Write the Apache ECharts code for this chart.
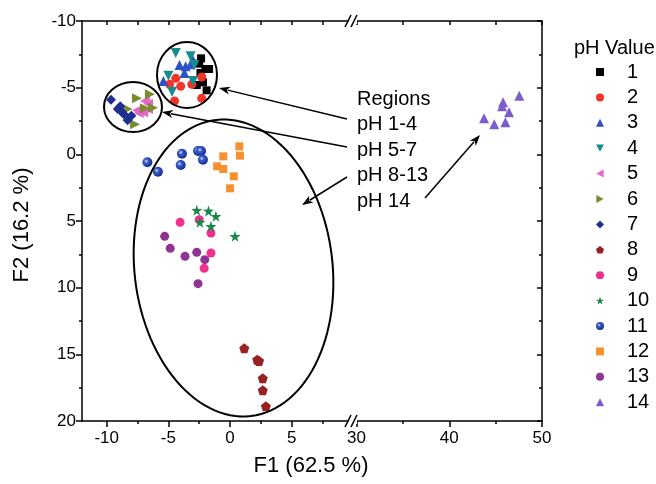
<!DOCTYPE html>
<html><head><meta charset="utf-8">
<script src="https://cdn.jsdelivr.net/npm/echarts@6/dist/echarts.min.js"></script>
<style>html,body{margin:0;padding:0;background:#fff}#c{width:656px;height:484px}</style>
</head><body><div id="c"></div>
<script>
const phNames = ['1','2','3','4','5','6','7','8','9','10','11','12','13','14'];
const ph1 = [[-2.35,-7.2],[-2.5,-6.8],[-2.0,-6.4],[-1.7,-6.4],[-2.4,-6.1],[-2.2,-5.4],[-2.7,-5.2],[-1.9,-4.8]];
const ph2 = [[-4.4,-5.7],[-4.9,-5.25],[-4.0,-5.1],[-3.1,-5.25],[-2.3,-5.8],[-4.5,-4.0],[-2.3,-4.2]];
const ph3 = [[-4.1,-6.7],[-3.2,-6.75],[-3.0,-7.05],[-3.7,-6.1],[-5.4,-5.5],[-3.6,-6.6]];
const ph4 = [[-4.4,-7.6],[-3.2,-7.35],[-5.0,-5.9],[-3.0,-5.5],[-4.7,-4.7],[-2.9,-6.7]];
const ph5 = [[-6.9,-4.0],[-6.65,-3.8],[-7.55,-3.3],[-7.05,-3.15],[-6.65,-3.4],[-7.4,-3.1]];
const ph6 = [[-7.55,-4.2],[-8.3,-3.4],[-6.5,-4.5],[-6.25,-3.5],[-7.7,-2.25],[-6.9,-3.45]];
const ph7 = [[-9.65,-4.1],[-8.9,-3.6],[-9.1,-3.4],[-8.75,-3.15],[-8.6,-3.0],[-8.3,-2.55],[-8.0,-2.9]];
const ph8 = [[1.15,14.55],[2.2,15.4],[2.35,15.5],[2.65,16.8],[2.65,17.7],[2.9,18.9]];
const ph9 = [[-4.05,5.1],[-2.5,4.9],[-1.55,5.9],[-1.55,7.4],[-2.1,8.55]];
const ph10 = [[-2.7,4.2],[-1.75,4.25],[-1.15,4.65],[-2.45,5.1],[-1.55,5.4],[0.4,6.15]];
const ph11 = [[-6.7,0.6],[-5.85,1.3],[-3.9,-0.05],[-4.0,0.8],[-2.6,-0.25],[-2.35,-0.25],[-2.2,0.4]];
const ph12 = [[0.75,-0.6],[0.8,0.1],[-0.55,0.15],[-1.05,0.9],[-0.55,1.1],[0.3,1.65],[0.0,2.55]];
const ph13 = [[-5.3,6.15],[-4.85,7.05],[-3.65,7.65],[-2.7,7.35],[-2.05,7.9],[-2.6,9.7]];
const ph14 = [[47.55,-4.4],[45.8,-3.9],[45.7,-3.6],[46.45,-3.15],[43.75,-2.7],[44.85,-2.25],[46.05,-2.4]];

const xLeftMajor = [-10,-5,0,5];
const xLeftMinor = [-7.5,-2.5,2.5,7.5];
const xRightMajor = [30,40,50];
const xRightMinor = [35,45];
const regionLabels = ['Regions','pH 1-4','pH 5-7','pH 8-13','pH 14'];

const pentagon = 'path://M0,-10L9.51,-3.09L5.88,8.09L-5.88,8.09L-9.51,-3.09Z';
const star = 'path://M0,-10L2.35,-3.24L9.51,-3.09L3.8,1.24L5.88,8.09L0,4L-5.88,8.09L-3.8,1.24L-9.51,-3.09L-2.35,-3.24Z';
const triDown = 'path://M0,0L10,0L5,9Z';
const triLeft = 'path://M9,0L9,10L0,5Z';
const triRight = 'path://M0,0L0,10L9,5Z';
const sphere = {type:'radial',x:0.38,y:0.38,r:0.65,colorStops:[{offset:0,color:'#dfe8ff'},{offset:0.3,color:'#3d5fcc'},{offset:1,color:'#142a8a'}]};

const styles = [
  {data:ph1, symbol:'rect', size:8, color:'#000000'},
  {data:ph2, symbol:'circle', size:9, color:'#f2352a'},
  {data:ph3, symbol:'triangle', size:10, color:'#2f52c4'},
  {data:ph4, symbol:'triangle', size:10, color:'#178c8c', rot:180, icon:triDown},
  {data:ph5, symbol:'triangle', size:10, color:'#e466c8', rot:90, icon:triLeft},
  {data:ph6, symbol:'triangle', size:10, color:'#7b8c2e', rot:-90, icon:triRight},
  {data:ph7, symbol:'diamond', size:10, color:'#1f2f8f'},
  {data:ph8, symbol:pentagon, size:10, color:'#982222'},
  {data:ph9, symbol:'circle', size:9, color:'#f0308c'},
  {data:ph10, symbol:star, size:11, color:'#18884a'},
  {data:ph11, symbol:'circle', size:10, color:sphere},
  {data:ph12, symbol:'rect', size:8, color:'#f7902e'},
  {data:ph13, symbol:'circle', size:9, color:'#8e3294'},
  {data:ph14, symbol:'triangle', size:10, color:'#7b5ccc', right:true}
];

const series = styles.map((s,i)=>({
  name: phNames[i], type:'scatter', data:s.data, symbol:s.symbol, symbolSize:s.size,
  symbolRotate: s.rot||0, itemStyle:{color:s.color, opacity:1},
  xAxisIndex: s.right?3:0, yAxisIndex: s.right?1:0, z: 3
}));
const legendData = styles.map((s,i)=> s.icon ? {name:phNames[i], icon:s.icon} : {name:phNames[i]});

const FONT = 'Liberation Sans, Arial, sans-serif';
const lineStyle = {color:'#000', width:1.5};
function xAxes(grid, min, max, major, minor){
  return [
    {gridIndex:grid, type:'value', position:'bottom', min, max,
     axisLine:{show:true,onZero:false,lineStyle}, splitLine:{show:false},
     axisTick:{show:true, customValues:major, length:6, lineStyle},
     axisLabel:{customValues:major, fontSize:17, color:'#000', margin:9, fontFamily:FONT}},
    {gridIndex:grid, type:'value', position:'bottom', min, max,
     axisLine:{show:false,onZero:false}, splitLine:{show:false},
     axisTick:{show:true, customValues:minor, length:3, lineStyle},
     axisLabel:{show:false}},
    {gridIndex:grid, type:'value', position:'top', min, max,
     axisLine:{show:true,onZero:false,lineStyle}, splitLine:{show:false},
     axisTick:{show:true, inside:true, customValues:major.concat(minor), length:4, lineStyle},
     axisLabel:{show:false}}
  ];
}

const chart = echarts.init(document.getElementById('c'));

function arrow(x1,y1,x2,y2){
  const a=Math.atan2(y2-y1,x2-x1), L=11, W=4;
  const bx=x2-L*Math.cos(a), by=y2-L*Math.sin(a);
  const px=-Math.sin(a)*W, py=Math.cos(a)*W;
  return [
    {type:'line', shape:{x1,y1,x2:bx+2*Math.cos(a),y2:by+2*Math.sin(a)}, style:{stroke:'#000',lineWidth:1.5}, z:50},
    {type:'polygon', shape:{points:[[x2,y2],[bx+px,by+py],[bx+3*Math.cos(a),by+3*Math.sin(a)],[bx-px,by-py]]}, style:{fill:'#000'}, z:50}
  ];
}
function brk(y){
  return [
    {type:'rect', shape:{x:349,y:y-3,width:8,height:6}, style:{fill:'#fff'}, z:60},
    {type:'line', shape:{x1:345,y1:y+6,x2:351,y2:y-6}, style:{stroke:'#000',lineWidth:1.5}, z:61},
    {type:'line', shape:{x1:351,y1:y+6,x2:357,y2:y-6}, style:{stroke:'#000',lineWidth:1.5}, z:61}
  ];
}
function ell(cx,cy,rx,ry){
  return {type:'ellipse', shape:{cx,cy,rx,ry}, style:{fill:null, stroke:'#000', lineWidth:2}, z:40};
}
// tilted ellipse through its major-axis end points (top, bottom) with semi-minor b
function tiltedEllipse(tx,ty,bx,by,b){
  const cx=(tx+bx)/2, cy=(ty+by)/2;
  const dx=bx-tx, dy=by-ty, len=Math.hypot(dx,dy), a=len/2;
  const ux=dx/len, uy=dy/len, vx=-uy, vy=ux;
  const pts=[];
  for(let k=0;k<120;k++){
    const t=k/120*2*Math.PI;
    pts.push([cx+ux*a*Math.cos(t)+vx*b*Math.sin(t), cy+uy*a*Math.cos(t)+vy*b*Math.sin(t)]);
  }
  return {type:'polygon', shape:{points:pts}, style:{fill:null, stroke:'#000', lineWidth:2}, z:40};
}

const graphics = [
  ell(187,75,30,33),
  ell(133,107,29,25),
  tiltedEllipse(216,120,251,416,99),
  ...arrow(347,119,219,88),
  ...arrow(347,147,162,112),
  ...arrow(347,177,302,205),
  ...arrow(425,198,480,135),
  ...brk(21), ...brk(421),
  {type:'text', x:311, y:466, style:{text:'F1 (62.5 %)', font:'22px '+FONT, fill:'#000', align:'center', verticalAlign:'middle'}, z:70},
  {type:'text', x:22, y:225, rotation:Math.PI/2, style:{text:'F2 (16.2 %)', font:'22px '+FONT, fill:'#000', align:'center', verticalAlign:'middle'}, z:70}
];
regionLabels.forEach((t,i)=>{
  graphics.push({type:'text', x:357, y:99+i*25.5, style:{text:t, font:'20px '+FONT, fill:'#000', align:'left', verticalAlign:'middle'}, z:70});
});

chart.setOption({
  animation:false,
  backgroundColor:'#fff',
  textStyle:{fontFamily:FONT},
  title:{text:'pH Value', left:569, top:33, textStyle:{fontSize:20, fontWeight:'normal', color:'#000', fontFamily:FONT}},
  legend:{orient:'vertical', left:591, top:57, itemWidth:8, itemHeight:8, itemGap:5.4,
    data:legendData, textStyle:{fontSize:20, lineHeight:20, color:'#000', fontFamily:FONT, padding:[0,0,0,18]}},
  grid:[
    {left:82, top:21, width:269, height:400},
    {left:351, top:21, width:191, height:400}
  ],
  xAxis:[...xAxes(0,-12,9.8,xLeftMajor,xLeftMinor), ...xAxes(1,29.4,50,xRightMajor,xRightMinor)],
  yAxis:[
    {gridIndex:0, type:'value', position:'left', inverse:true, min:-10, max:20, interval:5,
     axisLine:{show:true,onZero:false,lineStyle}, splitLine:{show:false},
     axisTick:{show:true,length:6,lineStyle}, minorTick:{show:true,splitNumber:2,length:3,lineStyle},
     axisLabel:{fontSize:17,color:'#000',margin:6,fontFamily:FONT}},
    {gridIndex:1, type:'value', position:'right', inverse:true, min:-10, max:20, interval:5,
     axisLine:{show:true,onZero:false,lineStyle}, splitLine:{show:false},
     axisTick:{show:true,inside:true,length:5,lineStyle}, minorTick:{show:true,splitNumber:2,length:3,lineStyle},
     axisLabel:{show:false}}
  ],
  series,
  graphic:graphics
});
</script></body></html>
